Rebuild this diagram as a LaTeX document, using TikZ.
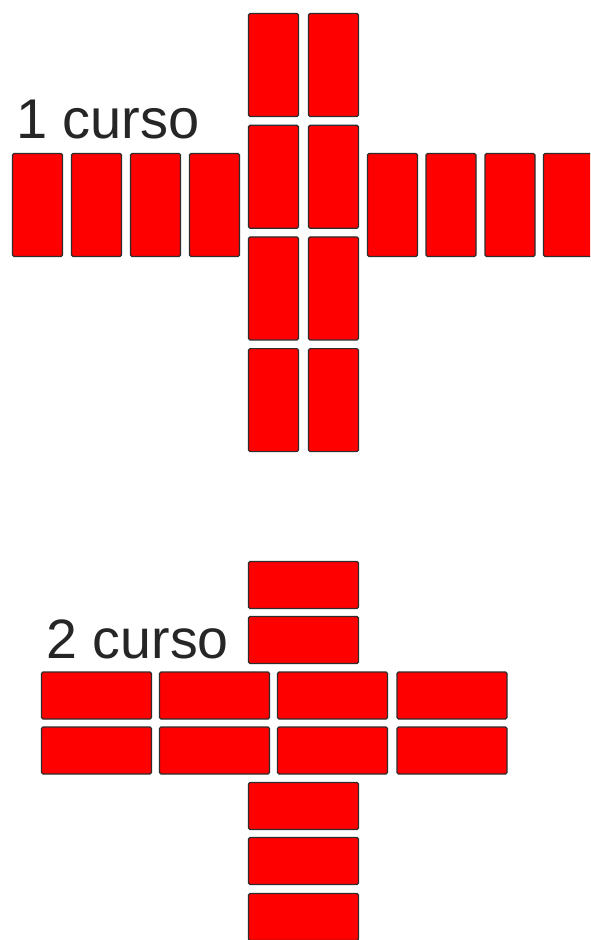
\documentclass[tikz,border=0pt]{standalone}
\usepackage{fontspec}
\setmainfont{Liberation Sans}
\usetikzlibrary{positioning}
\definecolor{brickred}{RGB}{255,0,0}
\definecolor{brickedge}{RGB}{45,45,45}
\tikzset{
  brick/.style={draw=brickedge, fill=brickred, line width=1.2pt, rounded corners=1.5pt, inner sep=0pt, outer sep=0pt},
  standbrick/.style={brick, minimum width=50pt, minimum height=103pt},
  flatbrick/.style={brick, minimum width=110pt, minimum height=47pt},
  cursotext/.style={inner sep=0pt, anchor=base west, text=black!85}
}

\begin{document}
\begin{tikzpicture}[x=1pt, y=-1pt]
    \clip (0,0) rectangle (590,940);
    \fill[white] (0,0) rectangle (590,940);
    % 1 curso
    \foreach \i in {0,...,3} {
        \node[standbrick] (cola\i) at (273.5, 65+111.7*\i) {};
        \node[standbrick] (colb\i) at (333.5, 65+111.7*\i) {};
    }
    \foreach \i/\x in {1/37.5, 2/96.5, 3/155.5, 4/214.5, 5/392.5, 6/451, 7/510, 8/568.5}
        \node[standbrick] (row\i) at (\x, 205) {};
    \node[cursotext, font=\fontsize{56}{62}\selectfont] (curso1) at (16,138) {1 curso};
    % 2 curso
    \foreach \i/\y in {1/585, 2/640, 3/806, 4/861, 5/917}
        \node[flatbrick] (colc\i) at (303.5, \y) {};
    \foreach \i/\x in {1/96.5, 2/214.5, 3/332.5, 4/452} {
        \node[flatbrick] (rowa\i) at (\x, 695.5) {};
        \node[flatbrick] (rowb\i) at (\x, 750.5) {};
    }
    \node[cursotext, font=\fontsize{55.5}{62}\selectfont] (curso2) at (46.5,658) {2 curso};
\end{tikzpicture}
\end{document}
